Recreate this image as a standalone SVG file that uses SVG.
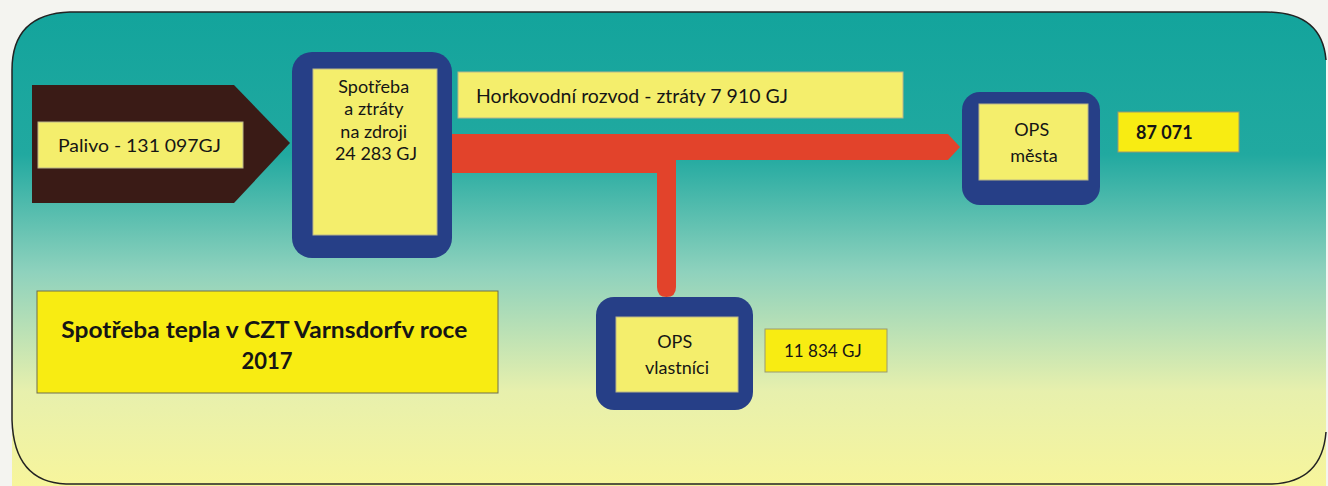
<svg xmlns="http://www.w3.org/2000/svg" width="1328" height="486" viewBox="0 0 1328 486">
<defs>
<linearGradient id="bg" x1="0" y1="0" x2="0" y2="1">
<stop offset="0" stop-color="#13a49c"/>
<stop offset="0.3" stop-color="#21a9a0"/>
<stop offset="0.55" stop-color="#8fd2bd"/>
<stop offset="0.8" stop-color="#e7f0ad"/>
<stop offset="1" stop-color="#f7f59c"/>
</linearGradient>
<style>
.t{font-family:Lato,"Liberation Sans",sans-serif;fill:#151515;}
.blue{fill:#263f87;}
.pale{fill:#f4ee6c;stroke:#b9b68a;stroke-width:1;}
.bright{fill:#f8ec12;stroke:#9a9a70;stroke-width:1;}
</style>
</defs>
<rect width="1328" height="486" fill="#f4f4f0"/>
<path d="M70,12 H1266 Q1322,12 1326,60 V486 H12 V70 Q12,14 70,12 Z" fill="url(#bg)"/>
<path d="M12,420 V70 Q12,14 70,12 H1266 Q1322,12 1326,60" fill="none" stroke="#222" stroke-width="1.5"/>
<path d="M1326,432 Q1322,482 1272,484 H66 Q14,482 12,420" fill="none" stroke="#222" stroke-width="1.5"/>
<g id="connectors">
<path d="M452,134 H948 L960,147 L948,160 H676 V287 Q676,297 666.5,297 Q657,297 657,287 V173 H452 Z" fill="#e2432b"/>
</g>
<g id="palivo">
<path d="M32,85 H234 L290,143 L234,203 H32 Z" fill="#3a1b16"/>
<rect x="38" y="122" width="205" height="46" class="pale"/>
<text x="58" y="152" class="t" font-size="18" textLength="163" lengthAdjust="spacingAndGlyphs">Palivo - 131 097GJ</text>
</g>
<g id="zdroj">
<rect x="292" y="52" width="160" height="206" rx="20" class="blue"/>
<rect x="313" y="69" width="124" height="166" class="pale"/>
<text class="t" font-size="18" text-anchor="middle">
<tspan x="376" y="93">Spotřeba</tspan>
<tspan x="376" y="115">a ztráty</tspan>
<tspan x="376" y="138">na zdroji</tspan>
<tspan x="376" y="160">24 283 GJ</tspan>
</text>
</g>
<g id="rozvod">
<rect x="458" y="72" width="445" height="46" class="pale"/>
<text x="476" y="103" class="t" font-size="19" textLength="312" lengthAdjust="spacingAndGlyphs">Horkovodní rozvod - ztráty 7 910 GJ</text>
</g>
<g id="ops-mesta">
<rect x="962" y="92" width="138" height="113" rx="18" class="blue"/>
<rect x="979" y="104" width="109" height="76" class="pale"/>
<text class="t" font-size="18" text-anchor="middle">
<tspan x="1034" y="136">OPS</tspan>
<tspan x="1034" y="162">města</tspan>
</text>
</g>
<g id="mesta-value">
<rect x="1118" y="112" width="121" height="40" class="bright"/>
<text x="1136" y="139" class="t" font-size="18" font-weight="bold">87 071</text>
</g>
<g id="ops-vlastnici">
<rect x="596" y="297" width="157" height="113" rx="18" class="blue"/>
<rect x="616" y="317" width="122" height="75" class="pale"/>
<text class="t" font-size="18" text-anchor="middle">
<tspan x="677" y="348">OPS</tspan>
<tspan x="677" y="374">vlastníci</tspan>
</text>
</g>
<g id="vlastnici-value">
<rect x="765" y="329" width="122" height="43" class="bright"/>
<text x="784" y="357" class="t" font-size="17">11 834 GJ</text>
</g>
<g id="title">
<rect x="37" y="291" width="461" height="102" class="bright" style="stroke:#6e6e50"/>
<text class="t" font-size="22" font-weight="bold" text-anchor="middle">
<tspan x="267" y="338" textLength="406" lengthAdjust="spacingAndGlyphs">Spotřeba tepla v CZT Varnsdorfv roce</tspan>
<tspan x="267" y="369">2017</tspan>
</text>
</g>
</svg>
